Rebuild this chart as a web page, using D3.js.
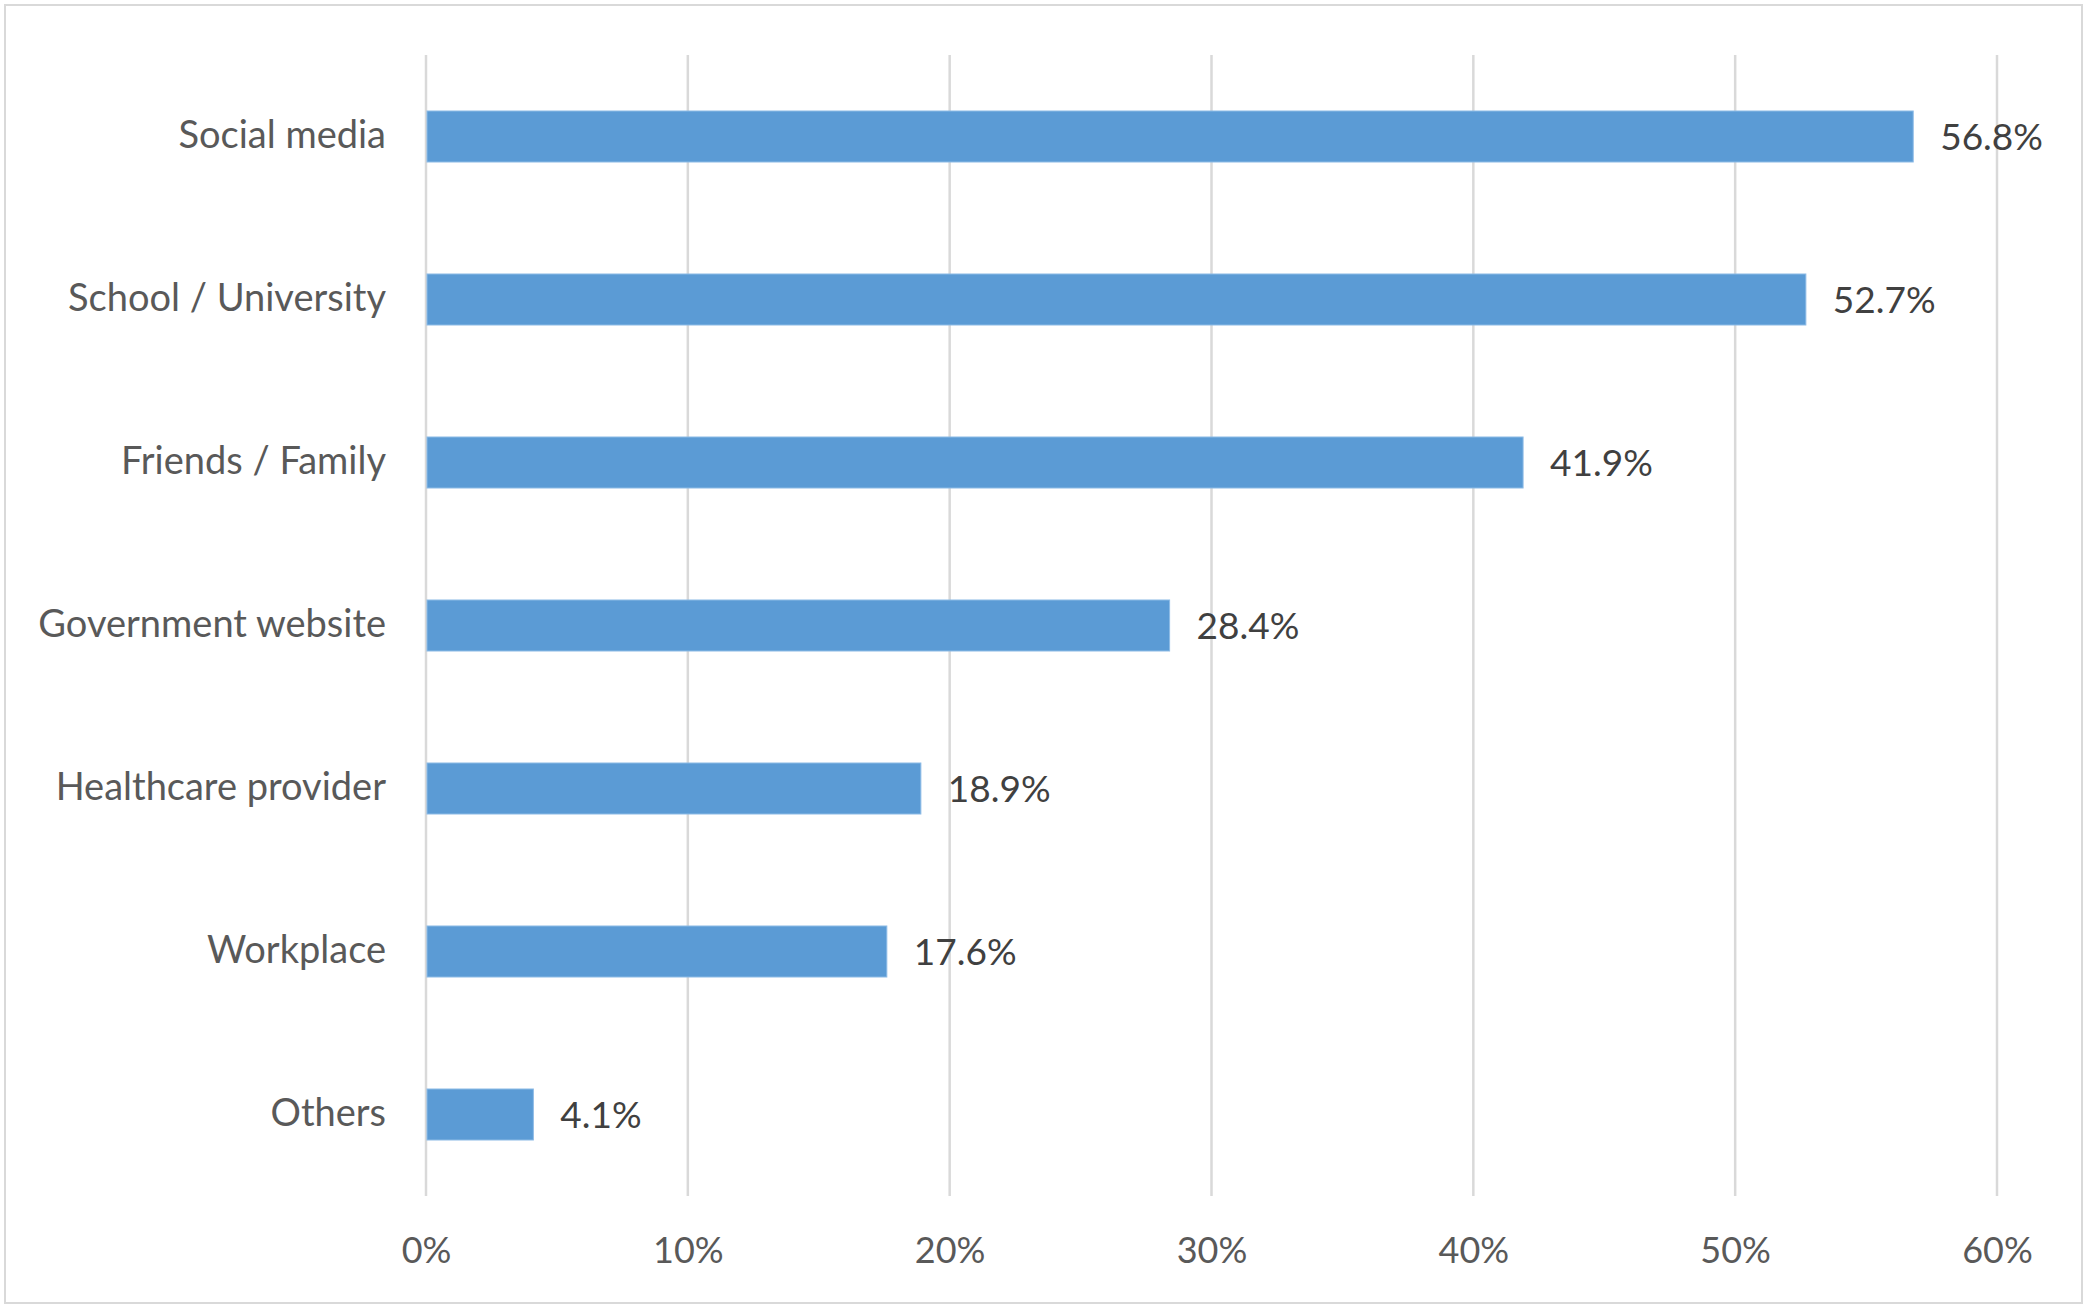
<!DOCTYPE html>
<html>
<head>
<meta charset="utf-8">
<script src="https://cdn.jsdelivr.net/npm/d3@7"></script>
<style>
  html, body { margin: 0; padding: 0; background: #fff; }
  svg { display: block; }
  text { font-family: Lato, "Open Sans", sans-serif; }
</style>
</head>
<body>
<script>
const categories = ["Social media", "School / University", "Friends / Family", "Government website", "Healthcare provider", "Workplace", "Others"];
const values = [56.8, 52.7, 41.9, 28.4, 18.9, 17.6, 4.1];
const tickValues = [0, 10, 20, 30, 40, 50, 60];
const tickLabels = ["0%", "10%", "20%", "30%", "40%", "50%", "60%"];

const W = 2090, H = 1310;
const svg = d3.select("body").append("svg").attr("width", W).attr("height", H);

// chart border
svg.append("rect").attr("x", 5).attr("y", 5).attr("width", 2077).attr("height", 1298)
  .attr("fill", "#fff").attr("stroke", "#D9D9D9").attr("stroke-width", 2);

const plot = { left: 426, right: 1997, top: 55, bottom: 1196 };
const x = d3.scaleLinear().domain([0, 60]).range([plot.left, plot.right]);
const y = d3.scaleBand().domain(categories).range([plot.top, plot.bottom]).paddingInner(0.687).paddingOuter(0.3435);

// gridlines
svg.append("g").selectAll("line").data(tickValues).join("line")
  .attr("x1", d => x(d)).attr("x2", d => x(d))
  .attr("y1", plot.top).attr("y2", plot.bottom)
  .attr("stroke", "#D9D9D9").attr("stroke-width", 2.5);

// x axis labels
const xAxis = d3.axisBottom(x).tickValues(tickValues).tickSize(0).tickPadding(0)
  .tickFormat((d, i) => tickLabels[i]);
const gx = svg.append("g").attr("transform", `translate(0, ${plot.bottom})`).call(xAxis);
gx.select(".domain").remove();
gx.selectAll("text").attr("y", 0).attr("dy", 0)
  .attr("transform", "translate(0, 67)")
  .attr("fill", "#595959").attr("font-size", 36).attr("font-family", "Lato, 'Open Sans', sans-serif");

// y axis labels
const yAxis = d3.axisLeft(y).tickSize(0).tickPadding(40);
const gy = svg.append("g").attr("transform", `translate(${plot.left}, 0)`).call(yAxis);
gy.select(".domain").remove();
gy.selectAll("text").attr("dy", "0.3em")
  .attr("fill", "#595959").attr("font-size", 38).attr("font-family", "Lato, 'Open Sans', sans-serif");

// bars
svg.append("g").selectAll("rect").data(values).join("rect")
  .attr("x", x(0) + 1)
  .attr("y", (d, i) => y(categories[i]))
  .attr("width", d => x(d) - x(0) - 1)
  .attr("height", y.bandwidth())
  .attr("fill", "#5B9BD5").attr("stroke", "#8DBBE6").attr("stroke-width", 1);

// data labels
svg.append("g").selectAll("text").data(values).join("text")
  .attr("x", d => x(d) + 27)
  .attr("y", (d, i) => y(categories[i]) + y.bandwidth() / 2 + 13)
  .attr("fill", "#404040").attr("font-size", 37)
  .text(d => d.toFixed(1) + "%");
</script>
</body>
</html>
